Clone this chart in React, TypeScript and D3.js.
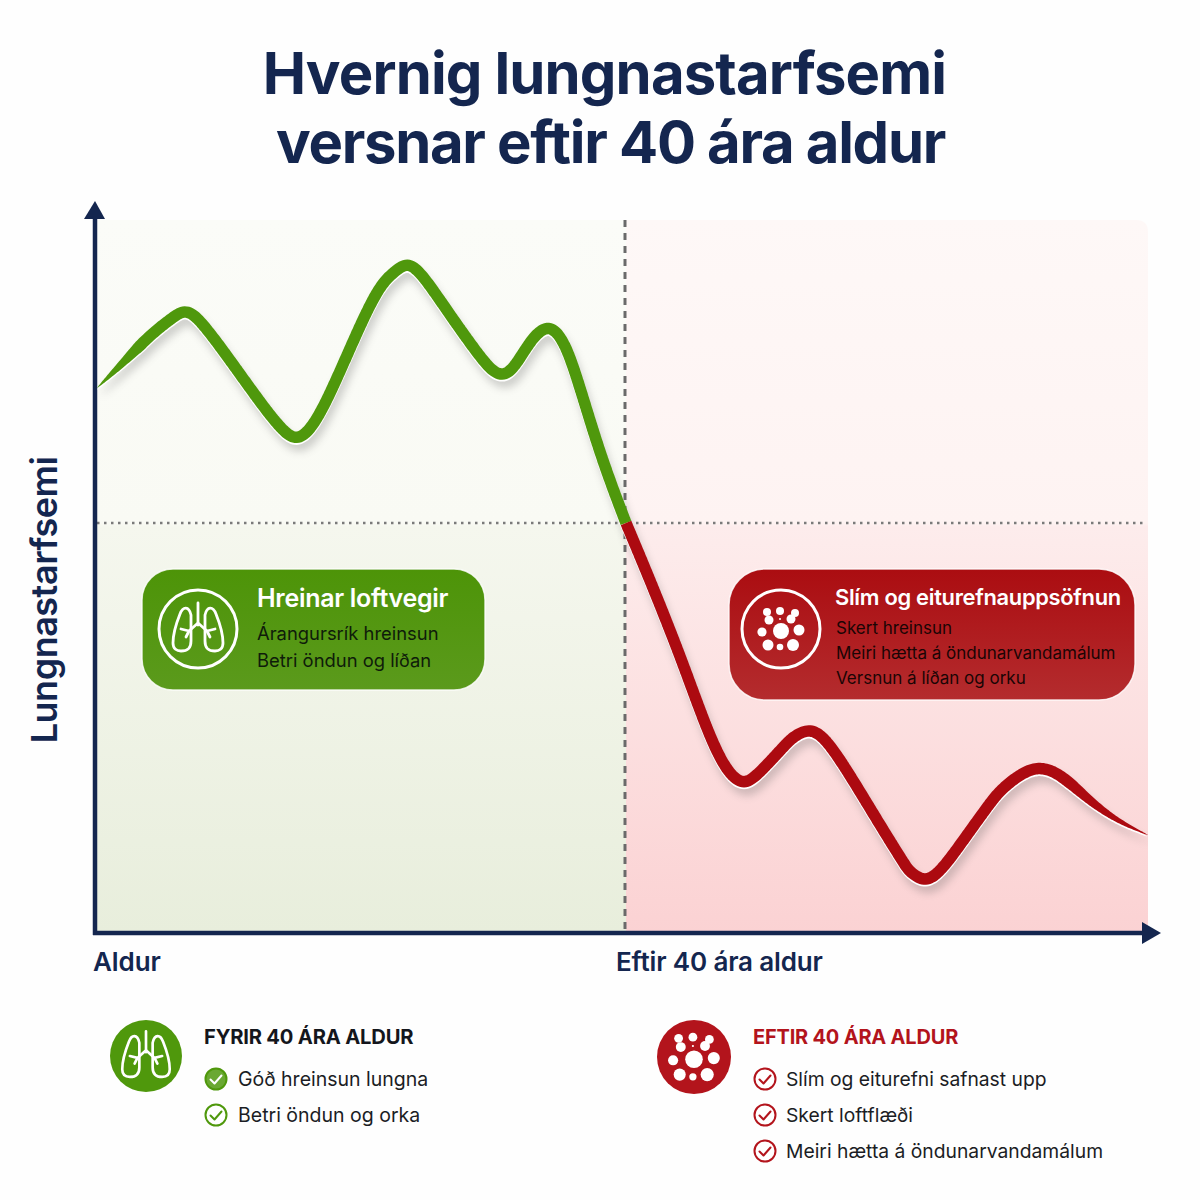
import React, { useMemo } from "react";
import * as d3 from "d3";

const titleLines = ["Hvernig lungnastarfsemi", "versnar eftir 40 ára aldur"];
const yAxisLabel = "Lungnastarfsemi";
const xTickLabels = ["Aldur", "Eftir 40 ára aldur"];

// In plot units (x: 0–1051 along the age axis, y: 0–713 up the function axis)
const greenAge = [0, 28, 53, 75, 88, 102, 133, 165, 185, 199, 214, 233, 263, 283, 297, 310, 324, 353, 383, 397, 409, 421, 435, 451, 465, 478, 503, 529];
const greenFunction = [545, 572, 598, 615, 624, 615, 573, 528, 503, 492, 503, 538, 608, 648, 661, 671, 661, 618, 576, 560, 557, 571, 595, 609, 596, 563, 478, 410];
const redAge = [529, 553, 583, 608, 627, 645, 660, 688, 696, 712, 728, 753, 783, 808, 812, 828, 844, 863, 893, 905, 938, 965, 988, 1018, 1051];
const redFunction = [410, 353, 278, 208, 165, 147, 157, 188, 196, 205, 196, 158, 108, 68, 62, 50, 62, 88, 130, 145, 170, 158, 136, 113, 98];

const pillGreenTitle = "Hreinar loftvegir";
const pillGreenLines = ["Árangursrík hreinsun", "Betri öndun og líðan"];
const pillRedTitle = "Slím og eiturefnauppsöfnun";
const pillRedLines = ["Skert hreinsun", "Meiri hætta á öndunarvandamálum", "Versnun á líðan og orku"];
const legendGreenTitle = "FYRIR 40 ÁRA ALDUR";
const legendGreenItems = ["Góð hreinsun lungna", "Betri öndun og orka"];
const legendRedTitle = "EFTIR 40 ÁRA ALDUR";
const legendRedItems = ["Slím og eiturefni safnast upp", "Skert loftflæði", "Meiri hætta á öndunarvandamálum"];

const particles: [number, number, number][] = [
  [0, 2, 8], [-14, -17, 4], [-1, -18, 4], [14, -16, 4], [-12, -9, 4.5], [10, -10, 4.5],
  [-19, 3, 4.6], [18, 1, 5.5], [-13, 16, 5.5], [-1, 18, 3.3], [12, 16, 6], [-1, -10, 1],
];

const NAVY = "#14264f";
const GREEN = "#4f980c";
const RED = "#ac0a10";
const FONT = "Inter, 'Noto Sans', sans-serif";

const x = d3.scaleLinear().domain([0, 1051]).range([97, 1148]);
const y = d3.scaleLinear().domain([0, 713]).range([933, 220]);
const lineGen = d3.line<[number, number]>().x((d) => x(d[0])).y((d) => y(d[1])).curve(d3.curveBasis);

function ribbon(xs: number[], ys: number[], startTaper: number, endTaper: number, w: number) {
  const d = lineGen(xs.map((v, i) => [v, ys[i]] as [number, number])) as string;
  const p = document.createElementNS("http://www.w3.org/2000/svg", "path");
  p.setAttribute("d", d);
  const L = p.getTotalLength();
  const left: [number, number][] = [];
  const right: [number, number][] = [];
  const step = 1.5;
  for (let s = 0; s <= L + step; s += step) {
    const t = Math.min(s, L);
    const a = p.getPointAtLength(Math.max(0, t - 0.75));
    const b = p.getPointAtLength(Math.min(L, t + 0.75));
    const c = p.getPointAtLength(t);
    const dx = b.x - a.x, dy = b.y - a.y;
    const n = Math.hypot(dx, dy) || 1;
    let f = 1;
    if (startTaper > 0) f = Math.min(f, t / startTaper);
    if (endTaper > 0) f = Math.min(f, (L - t) / endTaper);
    const h = (w / 2) * Math.pow(Math.max(0, f), 0.8);
    left.push([c.x - (dy / n) * h, c.y + (dx / n) * h]);
    right.push([c.x + (dy / n) * h, c.y - (dx / n) * h]);
  }
  return "M" + left.concat(right.reverse()).map((q) => q[0].toFixed(1) + "," + q[1].toFixed(1)).join("L") + "Z";
}

function Lungs({ cx, cy, k, sw }: { cx: number; cy: number; k: number; sw: number }) {
  const lobe = "M-7,-14 C-9,-23 -15,-23 -18,-15 C-22,-5 -25,4 -25,14 C-25,20 -21,22 -17,22 C-10,22 -7,19 -7,12 Z";
  const branch = "M0,-26 L0,-4 M0,-6 L-9,2 L-17,0 M-9,2 L-12,8";
  const branch2 = "M0,-6 L9,2 L17,0 M9,2 L12,8";
  return (
    <g transform={`translate(${cx},${cy}) scale(${k})`} fill="none" stroke="#fff" strokeWidth={sw} strokeLinecap="round" strokeLinejoin="round">
      <path d={lobe} />
      <path d={lobe} transform="scale(-1,1)" />
      <path d={branch} />
      <path d={branch2} />
    </g>
  );
}

function Particles({ cx, cy, k }: { cx: number; cy: number; k: number }) {
  return (
    <g transform={`translate(${cx},${cy}) scale(${k})`} fill="#fff">
      {particles.map((q, i) => (
        <circle key={i} cx={q[0]} cy={q[1]} r={q[2]} />
      ))}
    </g>
  );
}

function Check({ cx, cy, color, filled }: { cx: number; cy: number; color: string; filled?: boolean }) {
  return (
    <g transform={`translate(${cx},${cy})`}>
      <circle r={10.5} fill={filled ? "#6aa832" : "#fff"} stroke={color} strokeWidth={2} />
      <path d="M-5.5,0.5 L-1.5,4.5 L5.5,-3.5" fill="none" stroke={filled ? "#fff" : color} strokeWidth={2} strokeLinecap="round" strokeLinejoin="round" />
    </g>
  );
}

export default function App() {
  const greenPath = useMemo(() => ribbon(greenAge, greenFunction, 60, 0, 11.5), []);
  const redPath = useMemo(() => ribbon(redAge, redFunction, 0, 95, 11.5), []);
  const px0 = x(0), px1 = x(1051), xMid = x(529), yTop = y(713), yBase = y(0), yMid = y(410);

  return (
    <svg width={1200} height={1200} viewBox="0 0 1200 1200" style={{ position: "absolute", left: 0, top: 0, display: "block" }} fontFamily={FONT}>
      <defs>
        <linearGradient id="gPanel" x1="0" y1="0" x2="0" y2="1">
          <stop offset="0" stopColor="#fbfcf8" />
          <stop offset="0.425" stopColor="#f9faf4" />
          <stop offset="0.43" stopColor="#f5f7ee" />
          <stop offset="1" stopColor="#e8eedc" />
        </linearGradient>
        <linearGradient id="rPanel" x1="0" y1="0" x2="0" y2="1">
          <stop offset="0" stopColor="#fef8f7" />
          <stop offset="0.425" stopColor="#fef3f2" />
          <stop offset="0.43" stopColor="#fdecec" />
          <stop offset="1" stopColor="#fbd2d3" />
        </linearGradient>
        <linearGradient id="gPill" x1="0" y1="0" x2="0" y2="1">
          <stop offset="0" stopColor="#4d9408" />
          <stop offset="1" stopColor="#5b9a1c" />
        </linearGradient>
        <linearGradient id="rPill" x1="0" y1="0" x2="0" y2="1">
          <stop offset="0" stopColor="#ab0d11" />
          <stop offset="1" stopColor="#b42c2e" />
        </linearGradient>
        <filter id="soft" x="-10%" y="-10%" width="120%" height="120%">
          <feGaussianBlur stdDeviation="4" />
        </filter>
        <clipPath id="plotClip">
          <rect x={px0} y={yTop} width={px1 - px0} height={yBase - yTop} />
        </clipPath>
      </defs>

      <rect width={1200} height={1200} fill="#fefefe" />

      <text x={604.5} y={94} textAnchor="middle" fontSize={58} fontWeight={700} letterSpacing={-0.85} fill={NAVY}>{titleLines[0]}</text>
      <text x={610.5} y={163} textAnchor="middle" fontSize={58} fontWeight={700} letterSpacing={-1.3} fill={NAVY}>{titleLines[1]}</text>

      {/* panels */}
      <rect x={px0} y={yTop} width={xMid - px0} height={yBase - yTop} fill="url(#gPanel)" />
      <path d={`M${xMid},${yTop} H${px1 - 12} Q${px1},${yTop} ${px1},${yTop + 12} V${yBase} H${xMid} Z`} fill="url(#rPanel)" />

      {/* guide lines */}
      <line x1={xMid - 1} x2={xMid - 1} y1={yTop} y2={yBase} stroke="#6a6a6a" strokeWidth={3} strokeDasharray="7 6" />
      <line x1={px0} x2={px1 - 4} y1={yMid} y2={yMid} stroke="#7a7a7a" strokeWidth={2.5} strokeDasharray="2.5 4.5" />

      {/* axes */}
      <line x1={95} x2={95} y1={yBase + 2} y2={216} stroke={NAVY} strokeWidth={4.5} />
      <path d="M95,201 L105,219 L84,219 Z" fill={NAVY} />
      <line x1={93} x2={1144} y1={yBase} y2={yBase} stroke={NAVY} strokeWidth={4.5} />
      <path d="M1161,933 L1142,922 L1142,944 Z" fill={NAVY} />

      {/* curves */}
      <g clipPath="url(#plotClip)">
        <path d={greenPath} transform="translate(3,8)" fill="#555" opacity={0.28} filter="url(#soft)" />
        <path d={redPath} transform="translate(3,8)" fill="#555" opacity={0.28} filter="url(#soft)" />
        <path d={greenPath} transform="translate(0,1.8)" fill="#fff" />
        <path d={redPath} transform="translate(0,1.8)" fill="#fff" />
        <path d={greenPath} fill={GREEN} />
        <path d={redPath} fill={RED} />
      </g>

      {/* axis labels */}
      <text x={93} y={971} fontSize={26} fontWeight={600} letterSpacing={-0.1} fill={NAVY}>{xTickLabels[0]}</text>
      <text x={616} y={971} fontSize={26} fontWeight={600} letterSpacing={-0.15} fill={NAVY}>{xTickLabels[1]}</text>
      <text transform="translate(57,600) rotate(-90)" textAnchor="middle" fontSize={36} fontWeight={600} letterSpacing={-0.5} fill={NAVY}>{yAxisLabel}</text>

      {/* green callout */}
      <rect x={142} y={569} width={343} height={121} rx={31} fill="url(#gPill)" stroke="#fff" strokeOpacity={0.8} strokeWidth={1.5} />
      <circle cx={198} cy={629} r={39} fill="none" stroke="#fff" strokeWidth={3} />
      <Lungs cx={198} cy={629} k={1} sw={2.8} />
      <text x={257} y={607} fontSize={25} fontWeight={600} letterSpacing={-0.3} fill="#fff">{pillGreenTitle}</text>
      {pillGreenLines.map((t, i) => (
        <text key={i} x={257} y={640 + i * 27} fontSize={18.4} fill="#0f1c0a">{t}</text>
      ))}

      {/* red callout */}
      <rect x={729} y={569} width={406} height={131} rx={36} fill="url(#rPill)" stroke="#fff" strokeOpacity={0.8} strokeWidth={1.5} />
      <circle cx={781} cy={629} r={39} fill="none" stroke="#fff" strokeWidth={3} />
      <Particles cx={781} cy={629} k={1} />
      <text x={835} y={605} fontSize={21.9} fontWeight={600} letterSpacing={-0.3} fill="#fff">{pillRedTitle}</text>
      {pillRedLines.map((t, i) => (
        <text key={i} x={836} y={634 + i * 25} fontSize={17} fill="#1a0505">{t}</text>
      ))}

      {/* legend */}
      <circle cx={146} cy={1056} r={36} fill={GREEN} />
      <Lungs cx={146} cy={1056} k={0.95} sw={2.8} />
      <text x={204} y={1044} fontSize={20.2} fontWeight={700} letterSpacing={-0.2} fill="#14161c">{legendGreenTitle}</text>
      {legendGreenItems.map((t, i) => (
        <g key={i}>
          <Check cx={216} cy={1079 + i * 36} color={GREEN} filled={i === 0} />
          <text x={238} y={1086 + i * 36} fontSize={19.5} fill="#1b1d24">{t}</text>
        </g>
      ))}

      <circle cx={694} cy={1057} r={37} fill="#b3141c" />
      <Particles cx={694} cy={1057} k={1.1} />
      <text x={753} y={1044} fontSize={20} fontWeight={700} letterSpacing={-0.2} fill="#b3141c">{legendRedTitle}</text>
      {legendRedItems.map((t, i) => (
        <g key={i}>
          <Check cx={765} cy={1079 + i * 36} color="#b3141c" />
          <text x={786} y={1086 + i * 36} fontSize={19.3} fill="#1b1d24">{t}</text>
        </g>
      ))}
    </svg>
  );
}
